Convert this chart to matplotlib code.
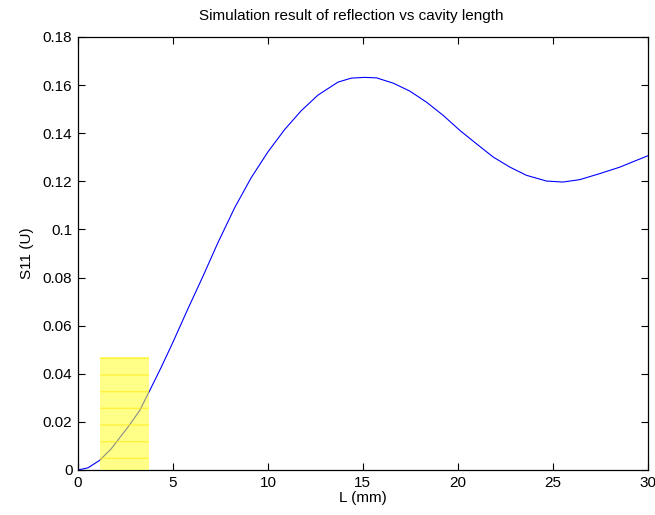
import matplotlib
matplotlib.use("Agg")
import matplotlib.pyplot as plt
from matplotlib.patches import Rectangle

plt.rcParams['font.family'] = ['Liberation Sans', 'DejaVu Sans']
plt.rcParams['hatch.linewidth'] = 1.0

# cavity length (mm) and reflection S11
L_mm = [0.0, 0.53, 1.14, 1.75, 2.63, 3.25, 3.74, 4.39, 5.0, 5.79, 6.58, 7.37,
        8.25, 9.12, 10.0, 10.88, 11.75, 12.63, 13.68, 14.39, 15.09, 15.72,
        16.6, 17.47, 18.35, 19.23, 20.1, 20.98, 21.86, 22.74, 23.61, 24.67,
        25.54, 26.42, 27.47, 28.53, 29.4, 30.0]
S11 = [0.0, 0.0009, 0.0040, 0.0088, 0.0178, 0.0247, 0.0324, 0.0428, 0.0531,
       0.0670, 0.0805, 0.0945, 0.1090, 0.1215, 0.1322, 0.1415, 0.1493, 0.1558,
       0.1612, 0.1629, 0.1632, 0.1630, 0.1608, 0.1575, 0.1529, 0.1474, 0.1412,
       0.1356, 0.1301, 0.1259, 0.1225, 0.1201, 0.1197, 0.1207, 0.1232, 0.1259,
       0.1287, 0.1306]

# highlighted region
hl_x = [1.17, 3.72]
hl_top = 0.047

fig = plt.figure(figsize=(6.55, 5.15), dpi=100)
ax = fig.add_axes([0.119, 0.0874, 0.870, 0.8408])

ax.plot(L_mm, S11, color=(0, 0, 1), linewidth=0.8)

# hatch takes the edge colour; linewidth 0 keeps the outline invisible
ax.add_patch(Rectangle((hl_x[0], 0), hl_x[1] - hl_x[0], hl_top,
                       facecolor=(1, 1, 0.15), edgecolor=(1, 0.9, 0),
                       linewidth=0, alpha=0.55, hatch='-', zorder=3))

ax.set_xlim(0, 30)
ax.set_ylim(0, 0.18)
ax.set_xticks([0, 5, 10, 15, 20, 25, 30])
ax.set_yticks([0, 0.02, 0.04, 0.06, 0.08, 0.1, 0.12, 0.14, 0.16, 0.18])
ax.set_yticklabels(['0', '0.02', '0.04', '0.06', '0.08', '0.1', '0.12', '0.14', '0.16', '0.18'])
ax.tick_params(direction='in', top=True, right=True, length=5, width=0.8,
               labelsize=11, pad=4)
for s in ax.spines.values():
    s.set_linewidth(0.9)

ax.set_title('Simulation result of reflection vs cavity length', fontsize=11, pad=12, x=0.48)
ax.set_xlabel('L (mm)', fontsize=11, labelpad=1)
ax.set_ylabel('S11 (U)', fontsize=11, labelpad=6)

fig.savefig('out.png', dpi=100)
